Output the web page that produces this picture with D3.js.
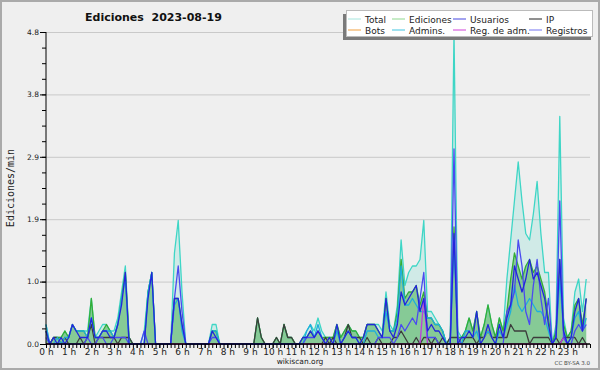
<!DOCTYPE html>
<html>
<head>
<meta charset="utf-8">
<script src="https://cdn.jsdelivr.net/npm/d3@7"></script>
<style>
  body { margin: 0; background: #fff; }
  svg { display: block; }
  text { font-family: "DejaVu Sans", sans-serif; fill: #222; }
</style>
</head>
<body>
<svg id="chart"></svg>
<script>
// 10 minute bins, edits per minute
const total = [
  0.3, 0, 0.1, 0.1, 0.1, 0.2, 0.1, 0.3, 0.2, 0.2,
  0.2, 0.2, 0.7, 0.1, 0.2, 0.3, 0.3, 0.2, 0.2, 0.4,
  0.8, 1.2, 0.1, 0, 0, 0, 0.2, 0.8, 1.1, 0,
  0, 0, 0, 0, 1.4, 1.9, 0.8, 0, 0, 0,
  0, 0, 0, 0, 0.3, 0.3, 0, 0, 0, 0,
  0, 0, 0, 0, 0, 0, 0.4, 0.1, 0, 0,
  0, 0.1, 0, 0.3, 0.1, 0.1, 0, 0, 0.1, 0.2,
  0.3, 0.2, 0.4, 0.2, 0.1, 0.1, 0.1, 0.3, 0.1, 0.2,
  0.3, 0.2, 0.2, 0.1, 0.1, 0.3, 0.3, 0.3, 0.3, 0.2,
  0.8, 0.3, 0.2, 0.6, 1.6, 0.9, 1.1, 1.2, 1.2, 1.3,
  1.9, 0.5, 0.5, 0.4, 0.3, 0.2, 0, 0.1, 4.8, 0.2,
  0.1, 0.2, 0.4, 0.2, 0.5, 0.1, 0.3, 0.6, 0.3, 0.1,
  0.4, 0.2, 1.0, 1.6, 2.2, 2.8, 2.2, 1.7, 1.6, 2.0,
  2.5, 1.7, 1.1, 1.1, 0, 0.3, 3.5, 0.4, 0.1, 0.2,
  0.8, 1.0, 0.5, 1.0
]
const ediciones = [
  0.2, 0, 0.1, 0.1, 0.1, 0.2, 0.1, 0.3, 0.2, 0.2,
  0.2, 0.1, 0.7, 0.1, 0.1, 0.2, 0.3, 0.2, 0.1, 0.3,
  0.7, 1.1, 0.1, 0, 0, 0, 0, 0.8, 1.1, 0,
  0, 0, 0, 0, 0.7, 0.7, 0.3, 0, 0, 0,
  0, 0, 0, 0, 0.2, 0.2, 0, 0, 0, 0,
  0, 0, 0, 0, 0, 0, 0.4, 0.1, 0, 0,
  0, 0.1, 0, 0.3, 0.1, 0.1, 0, 0, 0.1, 0.1,
  0.2, 0.1, 0.2, 0.1, 0.1, 0.1, 0.1, 0.3, 0.1, 0.2,
  0.3, 0.2, 0.2, 0.1, 0.1, 0.3, 0.3, 0.3, 0.2, 0.1,
  0.7, 0.2, 0.2, 0.5, 1.3, 0.7, 0.8, 0.8, 0.9, 0.6,
  0.8, 0.4, 0.4, 0.3, 0.3, 0.2, 0, 0.1, 1.8, 0.1,
  0.1, 0.2, 0.4, 0.2, 0.5, 0.1, 0.3, 0.6, 0.3, 0.1,
  0.4, 0.2, 0.5, 1.0, 1.4, 1.2, 1.0, 1.2, 1.3, 1.1,
  1.2, 1.0, 0.8, 0.4, 0, 0.2, 1.3, 0.3, 0.1, 0.2,
  0.6, 0.7, 0.3, 0.7
]
const usuarios = [
  0.2, 0, 0.1, 0, 0.1, 0, 0.1, 0.3, 0.2, 0.1,
  0.1, 0.1, 0.4, 0.1, 0.1, 0.2, 0.2, 0.1, 0.1, 0.3,
  0.6, 1.1, 0, 0, 0, 0, 0, 0.7, 1.1, 0,
  0, 0, 0, 0, 0.7, 0.7, 0.3, 0, 0, 0,
  0, 0, 0, 0, 0.2, 0.1, 0, 0, 0, 0,
  0, 0, 0, 0, 0, 0, 0, 0, 0, 0,
  0, 0, 0, 0, 0, 0, 0, 0, 0.1, 0.1,
  0.2, 0.1, 0.2, 0.1, 0, 0.1, 0, 0.3, 0, 0.1,
  0.2, 0.1, 0.1, 0, 0.1, 0.3, 0.3, 0.3, 0.2, 0.1,
  0.7, 0.2, 0.1, 0.3, 0.8, 0.6, 0.7, 0.8, 0.9, 0.5,
  0.7, 0.2, 0.3, 0.2, 0.2, 0.1, 0, 0, 1.7, 0,
  0.1, 0.1, 0.2, 0.1, 0.5, 0, 0.1, 0.3, 0.1, 0,
  0.3, 0.1, 0.4, 0.6, 1.2, 1.0, 0.8, 1.0, 1.3, 1.0,
  1.1, 0.9, 0.7, 0.3, 0, 0.1, 1.3, 0.2, 0, 0.1,
  0.5, 0.7, 0.2, 0.7
]
const ip = [
  0, 0, 0.1, 0.1, 0, 0.1, 0, 0, 0, 0.1,
  0, 0.1, 0.3, 0, 0.1, 0.1, 0.1, 0.1, 0.1, 0,
  0.1, 0.1, 0.1, 0, 0, 0, 0, 0, 0, 0,
  0, 0, 0, 0, 0, 0, 0, 0, 0, 0,
  0, 0, 0, 0, 0, 0, 0, 0, 0, 0,
  0, 0, 0, 0, 0, 0, 0.4, 0.1, 0, 0,
  0, 0.1, 0, 0.3, 0.1, 0.1, 0, 0, 0, 0,
  0, 0, 0, 0, 0.1, 0, 0.1, 0, 0, 0.1,
  0.3, 0.1, 0.1, 0.1, 0, 0.1, 0, 0, 0.1, 0,
  0, 0, 0.1, 0.1, 0.2, 0.1, 0, 0, 0.1, 0,
  0.1, 0.1, 0, 0.1, 0, 0.1, 0, 0.1, 0.1, 0.1,
  0, 0.1, 0.1, 0.1, 0, 0.1, 0.1, 0.2, 0.1, 0.1,
  0.1, 0.1, 0.1, 0.3, 0.2, 0.2, 0.2, 0.2, 0, 0.1,
  0.1, 0.1, 0.1, 0.1, 0, 0.1, 0, 0.1, 0.1, 0.1,
  0.1, 0, 0.1, 0
]
const bots = [
  0, 0, 0, 0, 0, 0, 0, 0, 0, 0,
  0, 0, 0, 0, 0, 0, 0, 0, 0, 0,
  0, 0, 0, 0, 0, 0, 0, 0, 0, 0,
  0, 0, 0, 0, 0, 0, 0, 0, 0, 0,
  0, 0, 0, 0, 0, 0, 0, 0, 0, 0,
  0, 0, 0, 0, 0, 0, 0, 0, 0, 0,
  0, 0, 0, 0, 0, 0, 0, 0, 0, 0,
  0, 0, 0, 0, 0, 0, 0, 0, 0, 0,
  0, 0, 0, 0, 0, 0, 0, 0, 0, 0,
  0, 0, 0, 0, 0, 0, 0, 0, 0, 0,
  0, 0, 0, 0, 0, 0, 0, 0, 0, 0,
  0, 0, 0, 0, 0, 0, 0.1, 0.2, 0.1, 0,
  0, 0, 0, 0, 0, 0, 0, 0, 0, 0,
  0, 0, 0, 0, 0, 0, 0, 0, 0, 0,
  0, 0, 0, 0
]
const admins = [
  0.3, 0, 0, 0.1, 0, 0.1, 0.1, 0.3, 0.2, 0.2,
  0.2, 0.1, 0.4, 0.1, 0.1, 0.2, 0.2, 0.2, 0.1, 0.3,
  0.7, 1.0, 0, 0, 0, 0, 0, 0.8, 1.1, 0,
  0, 0, 0, 0, 0.6, 0.7, 0.2, 0, 0, 0,
  0, 0, 0, 0, 0.2, 0.2, 0, 0, 0, 0,
  0, 0, 0, 0, 0, 0, 0, 0, 0, 0,
  0, 0, 0, 0, 0, 0, 0, 0, 0, 0.2,
  0.3, 0.1, 0.3, 0.1, 0, 0, 0, 0.2, 0, 0.1,
  0.2, 0.1, 0.1, 0, 0, 0.2, 0.2, 0.2, 0.1, 0.1,
  0.5, 0.2, 0.2, 0.4, 1.2, 0.6, 0.6, 0.7, 0.6, 0.5,
  0.5, 0.4, 0.4, 0.3, 0.3, 0.2, 0, 0, 1.6, 0.1,
  0, 0.2, 0.2, 0.1, 0.2, 0, 0.1, 0.2, 0.1, 0,
  0.2, 0.1, 0.3, 0.5, 0.9, 0.6, 0.5, 0.6, 0.7, 0.6,
  0.5, 0.5, 0.4, 0.2, 0, 0.1, 1.0, 0.2, 0, 0.1,
  0.4, 0.5, 0.2, 0.4
]
const regAdm = [
  0, 0, 0, 0, 0, 0, 0, 0, 0, 0,
  0, 0, 0, 0, 0, 0, 0, 0, 0, 0,
  0, 0, 0, 0, 0, 0, 0, 0, 0, 0,
  0, 0, 0, 0, 0, 0, 0, 0, 0, 0,
  0, 0, 0, 0, 0, 0, 0, 0, 0, 0,
  0, 0, 0, 0, 0, 0, 0, 0, 0, 0,
  0, 0, 0, 0, 0, 0, 0, 0, 0, 0,
  0, 0, 0, 0, 0, 0, 0, 0, 0, 0,
  0, 0, 0, 0, 0, 0, 0, 0, 0, 0,
  0, 0, 0, 0, 0, 0, 0, 0, 0, 0,
  0.7, 0, 0, 0, 0, 0, 0, 0, 0, 0,
  0, 0, 0, 0, 0, 0, 0, 0, 0, 0,
  0, 0, 0, 0, 0, 0, 0, 0, 0, 0,
  0, 0, 0, 0, 0, 0, 0, 0.1, 0, 0,
  0, 0, 0, 0
]
const registros = [
  0.1, 0, 0, 0, 0, 0, 0, 0, 0, 0,
  0, 0.1, 0, 0, 0.1, 0.1, 0, 0, 0.1, 0.1,
  0.1, 0.1, 0, 0, 0, 0, 0.2, 0, 0, 0,
  0, 0, 0, 0, 0.7, 1.2, 0.5, 0, 0, 0,
  0, 0, 0, 0, 0.1, 0.1, 0, 0, 0, 0,
  0, 0, 0, 0, 0, 0, 0, 0, 0, 0,
  0, 0, 0, 0, 0, 0, 0, 0, 0, 0.1,
  0.1, 0.1, 0.2, 0.1, 0, 0, 0, 0, 0, 0,
  0, 0, 0, 0, 0, 0, 0, 0, 0.1, 0.1,
  0.1, 0.1, 0, 0.1, 0.3, 0.2, 0.3, 0.4, 0.3, 0.7,
  1.1, 0.1, 0.1, 0.1, 0, 0, 0, 0, 3.0, 0.1,
  0, 0, 0, 0, 0, 0, 0, 0, 0, 0,
  0, 0, 0.5, 0.6, 0.8, 1.6, 1.2, 0.5, 0.3, 0.9,
  1.3, 0.7, 0.3, 0.7, 0, 0.1, 2.2, 0.1, 0, 0,
  0.2, 0.3, 0.2, 0.3
]
const hourLabels = [
  '0 h', '1 h', '2 h', '3 h', '4 h', '5 h', '6 h', '7 h', '8 h', '9 h', '10 h', '11 h',
  '12 h', '13 h', '14 h', '15 h', '16 h', '17 h', '18 h', '19 h', '20 h', '21 h', '22 h', '23 h'
]
const yMax = 4.8

const W = 600, H = 370
const margin = { top: 32, right: 10, bottom: 26, left: 46 }
const dims = { w: W - margin.left - margin.right, h: H - margin.top - margin.bottom }

const series = [
  { name: 'Total', values: total, color: '#3ed6c6', legend: '#a6e6de', fill: 'rgba(62,214,198,0.17)' },
  { name: 'Ediciones', values: ediciones, color: '#35ad35', legend: '#8fd88f', fill: 'rgba(60,170,70,0.5)' },
  { name: 'Usuarios', values: usuarios, color: '#2424dc', legend: '#4646e0' },
  { name: 'IP', values: ip, color: '#3c3c3c', legend: '#222' },
  { name: 'Bots', values: bots, color: '#f0a020', legend: '#f0a040' },
  { name: 'Admins.', values: admins, color: '#1eaedc', legend: '#40c4e0' },
  { name: 'Reg. de adm.', values: regAdm, color: '#c03cdc', legend: '#d040d8' },
  { name: 'Registros', values: registros, color: '#4a4af0', legend: '#7272f0' }
]
const byName = Object.fromEntries(series.map(s => [s.name, s]))

const svg = d3.select('#chart').attr('width', W).attr('height', H)

svg.append('rect')
  .attr('x', 1).attr('y', 1)
  .attr('width', W - 2).attr('height', H - 2)
  .style('fill', '#efefef')
  .style('stroke', '#aaa')
  .style('stroke-width', 2)

const chart = svg.append('g')
  .attr('transform', `translate(${margin.left}, ${margin.top})`)

const scales = {
  x: d3.scaleLinear().domain([0, 144]).range([0, dims.w]),
  y: d3.scaleLinear().domain([0, yMax]).range([dims.h, 0])
}
const majorY = d3.range(6).map(k => k * yMax / 5)

const drawGrid = () => {
  chart.append('g')
    .attr('class', 'grid')
    .call(d3.axisLeft(scales.y).tickValues(majorY).tickSize(-dims.w).tickFormat(''))
    .call(g => g.select('.domain').remove())
    .call(g => g.selectAll('line').style('stroke', '#c9c9c9'))
}

const drawAxes = () => {
  const minor = d3.range(21).map(k => k * yMax / 20)

  chart.append('g')
    .call(d3.axisLeft(scales.y).tickValues(minor).tickSize(4).tickFormat(''))
    .call(g => g.select('.domain').remove())
    .call(g => g.selectAll('line').style('stroke', '#000'))

  chart.append('g')
    .attr('class', 'y axis')
    .call(d3.axisLeft(scales.y).tickValues(majorY).tickSize(6).tickPadding(1).tickFormat(d3.format('.1f')))
    .call(g => g.select('.domain').attr('d', `M0,${dims.h}V0`).style('stroke', '#000'))
    .call(g => g.selectAll('text').style('font-size', '7.5px').attr('dy', '0.3em'))

  chart.append('g')
    .attr('transform', `translate(0, ${dims.h})`)
    .call(d3.axisBottom(scales.x).tickValues(d3.range(0, 145)).tickSize(4).tickFormat(''))
    .call(g => g.select('.domain').attr('d', `M0,0H${dims.w}`).style('stroke', '#000').style('stroke-width', 1.5))

  chart.append('g')
    .attr('class', 'x axis')
    .attr('transform', `translate(0, ${dims.h})`)
    .call(d3.axisBottom(scales.x)
      .tickValues(hourLabels.map((d, i) => i * 6))
      .tickSize(4)
      .tickPadding(1)
      .tickFormat((d, i) => hourLabels[i]))
    .call(g => g.select('.domain').remove())
    .call(g => g.selectAll('text').style('font-size', '9px'))
}

const drawSeries = () => {
  const area = d3.area()
    .x((d, i) => scales.x(i))
    .y0(dims.h)
    .y1(d => scales.y(d))

  const line = d3.line()
    .x((d, i) => scales.x(i))
    .y(d => scales.y(d))

  ;['Total', 'Ediciones'].forEach(n => {
    chart.append('path')
      .datum(byName[n].values)
      .attr('d', area)
      .style('fill', byName[n].fill)
  })

  const order = ['Total', 'Ediciones', 'IP', 'Bots', 'Admins.', 'Reg. de adm.', 'Registros', 'Usuarios']
  order.forEach(n => {
    chart.append('path')
      .datum(byName[n].values)
      .attr('d', line)
      .style('fill', 'none')
      .style('stroke', byName[n].color)
      .style('stroke-width', 1.3)
      .style('stroke-linejoin', 'round')
  })
}

const drawLegend = () => {
  const cols = [348, 392, 453, 529]
  const rows = [19, 30]
  const lg = svg.append('g').attr('class', 'legend')

  lg.append('rect')
    .attr('x', 343).attr('y', 14)
    .attr('width', 248).attr('height', 26)
    .style('fill', '#7a7a7a')
  lg.append('rect')
    .attr('x', 346.5).attr('y', 10.5)
    .attr('width', 246).attr('height', 26)
    .style('fill', '#fff')
    .style('stroke', '#bbb')

  series.forEach((s, i) => {
    const x = cols[i % 4], y = rows[Math.floor(i / 4)]
    lg.append('line')
      .attr('x1', x).attr('x2', x + 13)
      .attr('y1', y).attr('y2', y)
      .style('stroke', s.legend)
      .style('stroke-width', 1)
    lg.append('text')
      .attr('x', x + 17).attr('y', y + 3.5)
      .style('font-size', '9px')
      .text(s.name)
  })
}

drawGrid()
drawSeries()
drawAxes()
drawLegend()

svg.append('text')
  .attr('x', 85).attr('y', 21)
  .style('font-size', '11px')
  .style('font-weight', 'bold')
  .style('fill', '#111')
  .style('white-space', 'pre')
  .text('Ediciones  2023-08-19')

svg.append('text')
  .attr('transform', `translate(14, ${margin.top + dims.h * 0.5}) rotate(-90)`)
  .attr('text-anchor', 'middle')
  .style('font-family', '"DejaVu Sans Mono", monospace')
  .style('font-size', '10px')
  .text('Ediciones/min')

svg.append('text')
  .attr('x', 300).attr('y', 364)
  .attr('text-anchor', 'middle')
  .style('font-size', '7.5px')
  .text('wikiscan.org')

svg.append('text')
  .attr('x', 590).attr('y', 365)
  .attr('text-anchor', 'end')
  .style('font-size', '5.5px')
  .style('fill', '#444')
  .text('CC BY-SA 3.0')
</script>
</body>
</html>
